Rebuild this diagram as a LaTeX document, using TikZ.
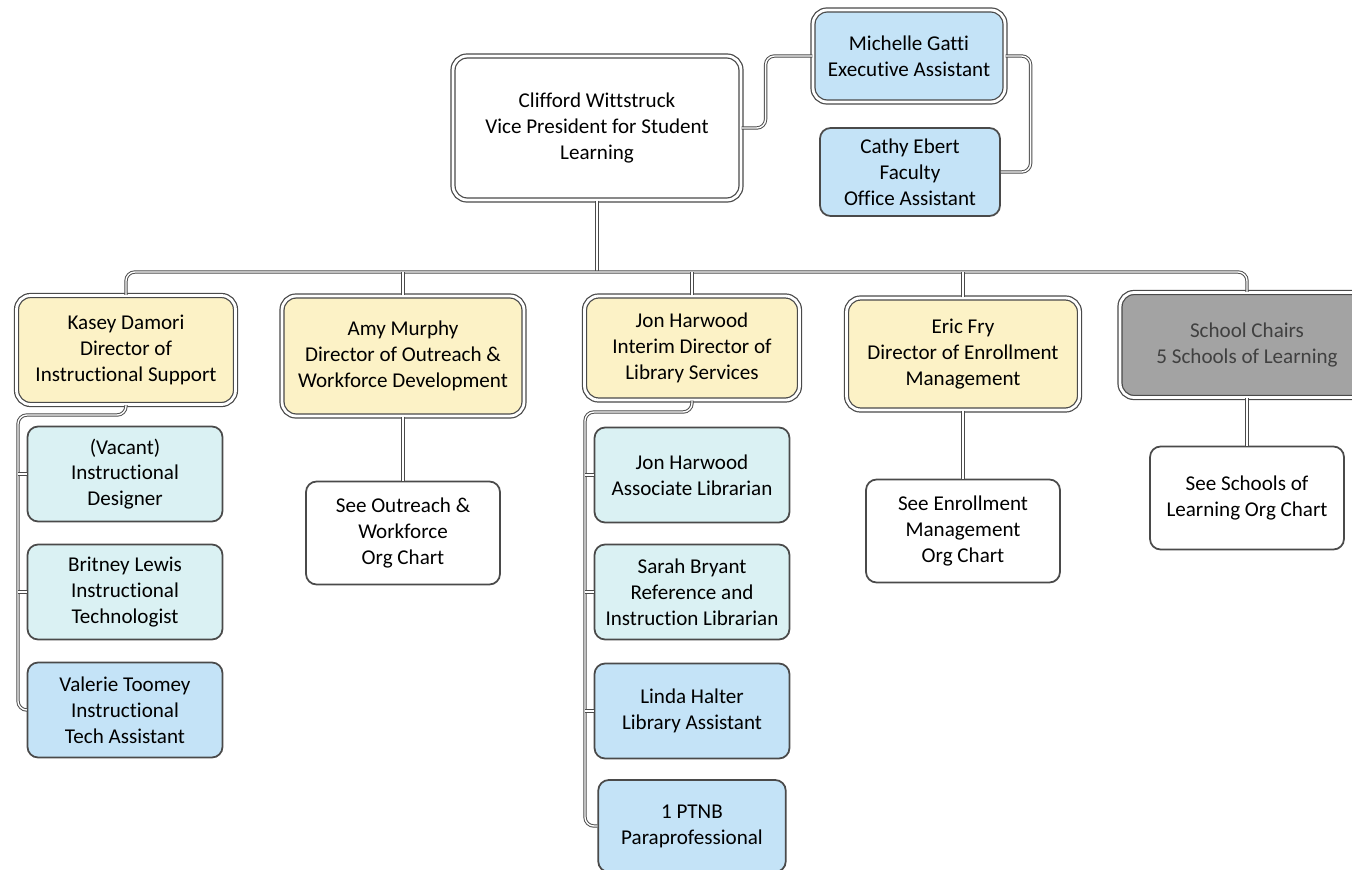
\documentclass[tikz,border=0pt]{standalone}
\usepackage{fontspec}
\setmainfont{Carlito}[Ligatures=NoCommon]
\tikzset{>=stealth}
\usetikzlibrary{positioning}
\colorlet{background}{white}
\definecolor{penColor}{HTML}{4A4A4A}
\definecolor{yellowFill}{HTML}{FCF2C6}
\definecolor{blueFill}{HTML}{C4E3F7}
\definecolor{tealFill}{HTML}{DAF1F3}
\definecolor{grayFill}{HTML}{A3A3A3}
\tikzset{
  box/.style={draw=penColor, rounded corners=6pt, align=center, inner sep=2pt,
    font=\fontsize{12}{14.7}\selectfont},
  headbox/.style={box, double=white, double distance=1.6pt, line width=0.7pt, rounded corners=8pt},
  staffbox/.style={box, line width=1pt, minimum width=3.9cm, minimum height=1.9cm},
  seebox/.style={box, fill=white, line width=1pt, minimum width=3.88cm, minimum height=2.06cm},
  link/.style={draw=penColor, line width=0.55pt, double=white, double distance=0.8pt, rounded corners=5pt},
}

\begin{document}
\begin{tikzpicture}[x=0.02cm,y=-0.02cm]
\useasboundingbox (0,0) rectangle (1352,869);
% top
\node[headbox, fill=white, minimum width=5.76cm, minimum height=2.88cm] (vp) at (597,128)
  {Clifford Wittstruck\\Vice President for Student\\Learning};
\node[headbox, fill=blueFill, minimum width=3.84cm, minimum height=1.84cm] (mich) at (909,56)
  {Michelle Gatti\\Executive Assistant};
\node[box, fill=blueFill, line width=1pt, minimum width=3.6cm, minimum height=1.76cm] (cathy) at (910,172)
  {Cathy Ebert\\Faculty\\Office Assistant};
% directors
\node[headbox, fill=yellowFill, minimum width=4.38cm, minimum height=2.18cm] (kasey) at (126,350)
  {Kasey Damori\\Director of\\Instructional Support};
\node[headbox, fill=yellowFill, minimum width=4.84cm, minimum height=2.4cm] (amy) at (403,356)
  {Amy Murphy\\Director of Outreach \&\\Workforce Development};
\node[headbox, fill=yellowFill, minimum width=4.3cm, minimum height=2.08cm] (jon) at (692,348)
  {Jon Harwood\\Interim Director of\\Library Services};
\node[headbox, fill=yellowFill, minimum width=4.66cm, minimum height=2.24cm] (eric) at (963,354)
  {Eric Fry\\Director of Enrollment\\Management};
\node[headbox, fill=grayFill, text=black!75, minimum width=5.08cm, minimum height=2.1cm] (school) at (1247,345)
  {School Chairs\\5 Schools of Learning};
% staff
\node[staffbox, fill=tealFill] (vacant) at (125,474) {(Vacant)\\Instructional\\Designer};
\node[staffbox, fill=tealFill] (britney) at (125,592) {Britney Lewis\\Instructional\\Technologist};
\node[staffbox, fill=blueFill] (valerie) at (125,710) {Valerie Toomey\\Instructional\\Tech Assistant};
\node[staffbox, fill=tealFill] (jonh) at (692,475) {Jon Harwood\\Associate Librarian};
\node[staffbox, fill=tealFill] (sarah) at (692,592) {Sarah Bryant\\Reference and\\Instruction Librarian};
\node[staffbox, fill=blueFill] (linda) at (692,711) {Linda Halter\\Library Assistant};
\node[staffbox, fill=blueFill, minimum width=3.75cm, minimum height=1.84cm] (ptnb) at (692,826)
  {1 PTNB\\Paraprofessional};
% see other charts
\node[seebox] (seeout) at (403,533) {See Outreach \&\\Workforce\\Org Chart};
\node[seebox] (seeenr) at (963,531) {See Enrollment\\Management\\Org Chart};
\node[seebox] (seesch) at (1247,498) {See Schools of\\Learning Org Chart};

\coordinate (bus) at (597,272);
\coordinate (kspine) at (18,415);
\coordinate (jspine) at (585,412);

\draw[link] (vp.east) -- ++(24,0) |- (mich.west);
\draw[link] (mich.east) -- ++(25,0) |- (cathy.east);
\draw[link] (vp.south) -- (bus);
\draw[link] (kasey.north) |- (bus -| school.north) -- (school.north);
\foreach \d in {amy,jon,eric}
  \draw[link] (\d.north) -- (\d.north |- bus);
\draw[link] (kasey.south) |- (kspine) |- (valerie.west);
\foreach \s in {vacant,britney}
  \draw[link] (\s.west) -- (\s.west -| kspine);
\draw[link] (jon.south) |- (jspine) |- (ptnb.west);
\foreach \s in {jonh,sarah,linda}
  \draw[link] (\s.west) -- (\s.west -| jspine);
\draw[link] (amy.south) -- (seeout.north);
\draw[link] (eric.south) -- (seeenr.north);
\draw[link] (school.south) -- (seesch.north);
\end{tikzpicture}
\end{document}
